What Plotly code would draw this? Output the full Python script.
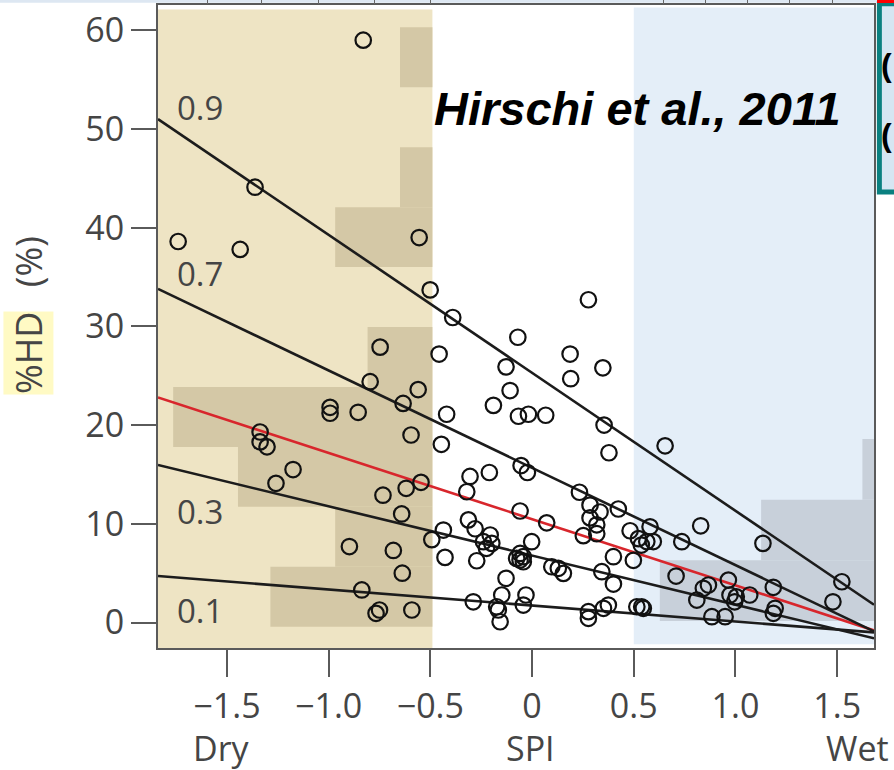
import plotly.graph_objects as go

# --- scatter: SPI vs %HD -------------------------------------------------
spi = [
    -0.83, -1.362, -0.555, -1.74, -1.435, -0.501, -0.747, -0.796, -0.56, -0.634,
    -0.993, -0.993, -0.855, -0.595, -1.337, -1.337, -1.303, -1.175, -1.259, -0.546,
    -0.619, -0.733, -0.641, -0.493, -0.898, -0.682, -0.638, -0.837, -0.75, -0.767,
    -0.591,
    -0.39, 0.277, -0.07, -0.457, 0.187, 0.348, -0.128, 0.19, -0.108,
    -0.19, -0.42, -0.067, -0.018, 0.067, 0.354, -0.446, 0.378, -0.305, -0.21,
    -0.321, -0.054, -0.023, 0.233, -0.059, 0.072, 0.285, 0.334, 0.424, 0.285,
    0.318, 0.318, 0.252, 0.482, -0.313, -0.28, -0.206, -0.239, -0.198, -0.224,
    -0.436, -0.428, -0.272, -0.002, -0.059, -0.043, -0.059, -0.043, -0.076, 0.097,
    0.129, 0.154, 0.343, 0.4, 0.4, -0.128, -0.149, -0.03, -0.289, -0.174,
    -0.166, -0.043, -0.157, 0.277, 0.277, 0.351, 0.375, 0.498,
    0.654, 0.58, 0.523, 0.564, 0.596, 0.537, 0.515, 0.539, 0.547, 0.708,
    0.736, 0.829, 1.135, 0.842, 0.867, 0.81, 0.884, 0.949, 0.965, 0.973,
    0.996, 1.004, 1.07, 1.186, 1.195, 1.186, 1.523, 1.479,
]
hd = [
    59.0, 44.1, 39.0, 38.6, 37.8, 33.7, 27.9, 24.4, 23.6, 22.2,
    21.8, 21.2, 21.3, 19.0, 19.3, 18.3, 17.8, 15.5, 14.1, 14.2,
    13.6, 12.9, 11.0, 8.4, 7.7, 7.3, 5.0, 3.3, 1.27, 0.93,
    1.27,
    30.9, 32.7, 28.9, 27.2, 27.2, 25.8, 25.9, 24.7, 23.5,
    22.0, 21.1, 20.9, 21.1, 21.0, 20.0, 18.05, 17.2, 14.8, 15.2,
    13.25, 15.9, 15.2, 13.2, 11.3, 10.1, 11.9, 11.2, 11.5, 10.6,
    9.9, 9.0, 8.8, 9.3, 10.4, 9.5, 8.87, 8.19, 8.02, 7.52,
    9.37, 6.6, 6.26, 8.19, 7.0, 6.67, 6.33, 6.16, 6.5, 5.65,
    5.49, 4.98, 5.15, 6.67, 3.9, 4.48, 2.79, 2.79, 2.1, 1.6,
    1.27, 1.77, 0.08, 1.1, 0.43, 1.44, 1.77, 6.3,
    17.9, 9.7, 8.5, 8.2, 8.2, 7.85, 1.6, 1.6, 1.44, 4.71,
    8.19, 9.8, 8.02, 3.47, 3.8, 2.28, 0.59, 0.59, 4.3, 2.79,
    2.1, 2.6, 2.79, 3.57, 1.44, 0.93, 4.13, 2.1,
]

# --- quantile regression lines -------------------------------------------
quantiles = ["0.1", "0.3", "0.5", "0.7", "0.9"]
line_spi = [-1.839, 1.681]
hd_at_start = [4.71, 15.96, 22.8, 33.8, 51.0]
hd_at_end = [-1.0, -1.6, -0.8, -0.9, 1.8]
line_colors = ["#1c1c1c", "#1c1c1c", "#d8262c", "#1c1c1c", "#1c1c1c"]
label_hd = [1.27, 11.2, None, 35.4, 52.2]

# --- %HD histograms for dry (SPI < -0.5) and wet (SPI > 0.5) years -------
dry_bin_edges = [-0.43, 5.64, 11.72, 17.79, 23.86, 29.94, 36.01, 42.08, 48.15, 54.23, 60.3]
dry_counts = [5, 3, 6, 8, 2, 0, 3, 1, 0, 1]
wet_bin_edges = [0.15, 6.3, 12.45, 18.6]
wet_counts = [7, 4, 1]

# --- axes ----------------------------------------------------------------
x_range = [-1.839, 1.681]
y_range = [-2.58, 62.56]
x_ticks = [-1.5, -1.0, -0.5, 0, 0.5, 1.0, 1.5]
x_ticktext = ["\u22121.5", "\u22121.0", "\u22120.5", "0", "0.5", "1.0", "1.5"]
y_ticks = [0, 10, 20, 30, 40, 50, 60]
# tick marks of the panel frame above
top_ticks = [-1.598, -1.328, -1.052, -0.777, -0.501, 0.644, 0.851, 1.057, 1.268, 1.475]

DRY_EDGE = -0.49
WET_EDGE = 0.5
DRY_BASE, DRY_SCALE = -0.49, 0.1593
WET_BASE, WET_SCALE = 1.79, 0.166

FONT = "Open Sans"
TXT = "#454545"
AX = "#5a5a5a"

fig = go.Figure()

# histogram bars
dry_centers = [(a + b) / 2 for a, b in zip(dry_bin_edges[:-1], dry_bin_edges[1:])]
dry_widths = [b - a for a, b in zip(dry_bin_edges[:-1], dry_bin_edges[1:])]
fig.add_trace(go.Bar(
    y=dry_centers, x=[-c * DRY_SCALE for c in dry_counts], base=DRY_BASE,
    width=dry_widths, orientation="h", marker=dict(color="#d4c8a6", line=dict(width=0)),
    showlegend=False, hoverinfo="skip",
))
wet_centers = [(a + b) / 2 for a, b in zip(wet_bin_edges[:-1], wet_bin_edges[1:])]
wet_widths = [b - a for a, b in zip(wet_bin_edges[:-1], wet_bin_edges[1:])]
fig.add_trace(go.Bar(
    y=wet_centers, x=[-c * WET_SCALE for c in wet_counts], base=WET_BASE,
    width=wet_widths, orientation="h", marker=dict(color="#c8d0da", line=dict(width=0)),
    showlegend=False, hoverinfo="skip",
))

# quantile lines
for q, y0, y1, col in zip(quantiles, hd_at_start, hd_at_end, line_colors):
    fig.add_trace(go.Scatter(
        x=line_spi, y=[y0, y1], mode="lines",
        line=dict(color=col, width=2.6), showlegend=False, hoverinfo="skip",
    ))

# observations
fig.add_trace(go.Scatter(
    x=spi, y=hd, mode="markers",
    marker=dict(symbol="circle-open", size=15.5, color="#111111", line=dict(width=2.2)),
    showlegend=False,
))

# invisible trace so the top frame axis is drawn
fig.add_trace(go.Scatter(x=[x_range[0]], y=[y_range[0]], xaxis="x2", mode="markers",
                         marker=dict(opacity=0), showlegend=False, hoverinfo="skip"))

# dry / wet shading
fig.add_shape(type="rect", xref="x", yref="y", x0=x_range[0], x1=DRY_EDGE,
              y0=y_range[0], y1=62.1, fillcolor="#eee4c4", line_width=0, layer="below")
fig.add_shape(type="rect", xref="x", yref="y", x0=WET_EDGE, x1=x_range[1],
              y0=-2.2, y1=62.3, fillcolor="#e4eef8", line_width=0, layer="below")

# quantile labels
for q, yl in zip(quantiles, label_hd):
    if yl is None:
        continue
    fig.add_annotation(x=-1.757, y=yl, text=q, showarrow=False, xanchor="left",
                       yanchor="middle", font=dict(family=FONT, size=33, color=TXT))

# citation
fig.add_annotation(x=0.519, y=52.1, text="<b><i>Hirschi et al., 2011</i></b>",
                   showarrow=False, xanchor="center", yanchor="middle",
                   font=dict(family="Liberation Sans", size=47, color="#000000"))

# axis captions under the x axis
for txt, xv in [("Dry", -1.529), ("SPI", -0.01), ("Wet", 1.598)]:
    fig.add_annotation(x=xv, y=-0.1555, xref="x", yref="paper", text=txt,
                       showarrow=False, xanchor="center", yanchor="middle",
                       font=dict(family=FONT, size=34, color=TXT))

# y-axis title: highlighted %HD and the unit
fig.add_annotation(x=-0.1816, y=27.3, xref="paper", yref="y", text="%HD",
                   textangle=-90, showarrow=False, bgcolor="#fffac4", borderpad=0,
                   xanchor="center", yanchor="middle",
                   font=dict(family=FONT, size=36, color=TXT))
fig.add_annotation(x=-0.1816, y=36.6, xref="paper", yref="y", text="(%)",
                   textangle=-90, showarrow=False, xanchor="center", yanchor="middle",
                   font=dict(family=FONT, size=36, color=TXT))

# neighbouring panel at the right edge
fig.add_shape(type="rect", xref="paper", yref="paper", x0=1.0075, x1=1.05,
              y0=0.709, y1=1.002, fillcolor="#d6e6f2",
              line=dict(color="#0a8080", width=5))
fig.add_shape(type="rect", xref="paper", yref="paper", x0=1.0042, x1=1.05,
              y0=1.003, y1=1.01, fillcolor="#ff0000", line_width=0)
for yv in [0.907, 0.798]:
    fig.add_annotation(x=1.0279, y=yv, xref="paper", yref="paper", text="<b>(</b>",
                       showarrow=False, xanchor="right", yanchor="middle",
                       font=dict(family="Liberation Sans", size=32, color="#000000"))

# thin light strip along the very top
fig.add_shape(type="rect", xref="paper", yref="paper", x0=-0.3, x1=1.0042,
              y0=1.0035, y1=1.01, fillcolor="#dde7f2", line_width=0, layer="below")

axis_common = dict(
    showline=True, linecolor=AX, linewidth=2, mirror=True,
    ticks="outside", tickcolor=AX, tickwidth=2,
    showgrid=False, zeroline=False, automargin=False,
    tickfont=dict(family=FONT, size=34, color=TXT),
)
fig.update_xaxes(range=x_range, tickvals=x_ticks, ticktext=x_ticktext,
                 ticklen=27, **axis_common)
fig.update_yaxes(range=y_range, tickvals=y_ticks, ticklen=25, **axis_common)

fig.update_layout(
    width=894, height=770,
    margin=dict(l=158, r=20, t=5, b=122, pad=0, autoexpand=False),
    paper_bgcolor="#ffffff", plot_bgcolor="#ffffff",
    barmode="overlay", showlegend=False,
    xaxis2=dict(overlaying="x", anchor="y", side="top", range=x_range,
                tickvals=top_ticks, showticklabels=False, ticks="outside",
                ticklen=5, tickwidth=1.2, tickcolor="#666666", automargin=False,
                showline=False, showgrid=False, zeroline=False),
)

fig.write_html("out.html")
